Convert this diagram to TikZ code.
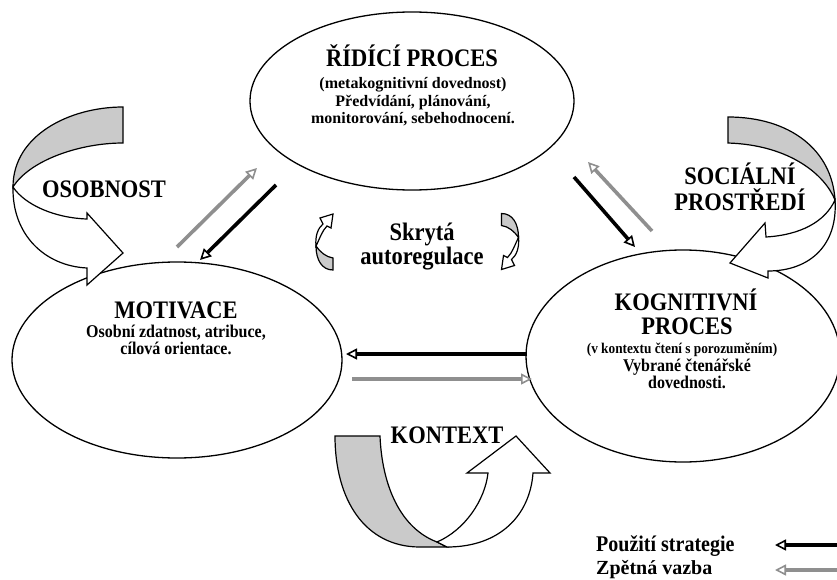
\documentclass[tikz,border=0pt]{standalone}
\usepackage{graphicx}
\usepackage{fontspec}
\setmainfont{Liberation Serif}
\usetikzlibrary{arrows.meta,shapes.geometric}
\definecolor{fbgray}{HTML}{8F8F8F}
\definecolor{ribgray}{HTML}{CACACA}
\newcommand{\vstretch}[1]{\scalebox{1}[1.12]{#1}}
\tikzset{
  oval/.style={draw, ellipse, line width=1.3pt, inner sep=0pt},
  ribbon/.style={draw, line width=1.2pt, line join=miter},
  backside/.style={ribbon, fill=ribgray},
  frontside/.style={ribbon, fill=white},
  usearrow/.style={line width=3.6pt, black, -{Triangle[open,length=11pt,width=11pt,line width=1.6pt]}},
  fbarrow/.style={line width=3.6pt, fbgray, -{Triangle[open,length=11pt,width=11pt,line width=1.6pt]}},
  biglbl/.style={font=\fontsize{22.5}{24}\selectfont\bfseries, inner sep=0pt, anchor=base},
  midlbl/.style={font=\fontsize{16}{18}\selectfont\bfseries, inner sep=0pt, anchor=base},
  smalllbl/.style={font=\fontsize{13.3}{15}\selectfont\bfseries, inner sep=0pt, anchor=base},
  leglbl/.style={font=\fontsize{20}{22}\selectfont\bfseries, inner sep=0pt, anchor=base west},
}
\begin{document}
\begin{tikzpicture}[x=1pt,y=-1pt]
\useasboundingbox (0,0) rectangle (837,580);
\fill[white] (0,0) rectangle (837,580);

% ellipses
\node[oval, minimum width=324pt, minimum height=178pt] (ridici) at (412,101) {};
\node[oval, minimum width=330pt, minimum height=196pt] (motivace) at (177,360) {};
\node[oval, minimum width=314pt, minimum height=212pt] (kognitivni) at (683,356) {};

% texts in ellipses
\node[biglbl] (t1) at (412,67) {\vstretch{ŘÍDÍCÍ PROCES}};
\node[midlbl] (t2) at (413,88.5) {(metakognitivní dovednost)};
\node[midlbl] (t3) at (413,107) {Předvídání, plánování,};
\node[midlbl] (t4) at (413,123.5) {monitorování, sebehodnocení.};

\node[biglbl] (m1) at (176,318) {\vstretch{MOTIVACE}};
\node[midlbl] (m2) at (176,337) {\vstretch{Osobní zdatnost, atribuce,}};
\node[midlbl] (m3) at (176,354) {\vstretch{cílová orientace.}};

\node[biglbl] (k1) at (686,310) {\vstretch{KOGNITIVNÍ}};
\node[biglbl] (k2) at (687,334) {\vstretch{PROCES}};
\node[smalllbl] (k3) at (682,353) {\vstretch{(v kontextu čtení s porozuměním)}};
\node[midlbl] (k4) at (687,371) {\vstretch{Vybrané čtenářské}};
\node[midlbl] (k5) at (687,388) {\vstretch{dovednosti.}};

% OSOBNOST ribbon
\draw[backside] (123,107) .. controls (70,107) and (13,135) .. (13,187)
  .. controls (30,160) and (80,143) .. (123,143) -- cycle;
\draw[frontside] (13,187) .. controls (12,235) and (45,266) .. (87,268)
  -- (87,285) -- (123,253) -- (87,213) -- (87,219)
  .. controls (55,218) and (25,205) .. (13,187) -- cycle;
\node[biglbl] (osob) at (104,197) {\vstretch{OSOBNOST}};

% SOCIALNI PROSTREDI ribbon
\draw[backside] (728,117) .. controls (790,117) and (832,150) .. (835,200)
  .. controls (825,175) and (790,145) .. (728,143) -- cycle;
\draw[frontside] (835,200) .. controls (838,245) and (810,271) .. (768,271)
  -- (768,278) -- (730,263) -- (765,223) -- (766,237)
  .. controls (800,235) and (825,222) .. (835,200) -- cycle;
\node[biglbl] (soc1) at (740,185) {\vstretch{SOCIÁLNÍ}};
\node[biglbl] (soc2) at (740,210) {\vstretch{PROSTŘEDÍ}};

% KONTEXT ribbon
\draw[backside] (335,436) -- (380,436) .. controls (382,485) and (400,528) .. (437,542)
  -- (447,547) -- (420,547) .. controls (365,547) and (335,500) .. (335,436) -- cycle;
\draw[frontside] (437,542) .. controls (465,530) and (485,500) .. (488,473)
  -- (467,473) -- (516,436) -- (550,473) -- (533,473)
  .. controls (530,515) and (500,547) .. (447,547) -- cycle;
\node[biglbl] (kont) at (447,443) {\vstretch{KONTEXT}};

% small self-regulation arrows
\begin{scope}
\draw[backside] (333,258) -- (333,270) .. controls (322,270) and (316,260) .. (316,246)
  .. controls (320,252) and (326,257) .. (333,258) -- cycle;
\draw[frontside] (316,246) .. controls (315,236) and (318,228) .. (323,224)
  -- (320,218) -- (333,214) -- (331,228) -- (327,226)
  .. controls (322,231) and (320,238) .. (316,246) -- cycle;
\end{scope}
\begin{scope}[shift={(510,241.5)}, rotate=180, shift={(-324.5,-242)}]
\draw[backside] (333,258) -- (333,270) .. controls (322,270) and (316,260) .. (316,246)
  .. controls (320,252) and (326,257) .. (333,258) -- cycle;
\draw[frontside] (316,246) .. controls (315,236) and (318,228) .. (323,224)
  -- (320,218) -- (333,214) -- (331,228) -- (327,226)
  .. controls (322,231) and (320,238) .. (316,246) -- cycle;
\end{scope}
\node[biglbl] (skr1) at (422,240) {\vstretch{Skrytá}};
\node[biglbl] (skr2) at (422,264) {\vstretch{autoregulace}};

% arrows
\coordinate (g1s) at (177,247); \coordinate (g1e) at (257,168);
\coordinate (b1s) at (276,185); \coordinate (b1e) at (200,260);
\coordinate (b2s) at (574,177); \coordinate (b2e) at (635,247);
\coordinate (g2s) at (652,231); \coordinate (g2e) at (588,162);
\coordinate (b3s) at (527,354); \coordinate (b3e) at (346,354);
\coordinate (g3s) at (352,379); \coordinate (g3e) at (532,379);
\draw[fbarrow] (g1s) -- (g1e);
\draw[usearrow] (b1s) -- (b1e);
\draw[usearrow] (b2s) -- (b2e);
\draw[fbarrow] (g2s) -- (g2e);
\draw[usearrow] (b3s) -- (b3e);
\draw[fbarrow] (g3s) -- (g3e);

% legend
\node[leglbl] (leg1) at (596,551) {\vstretch{Použití strategie}};
\node[leglbl] (leg2) at (596,574.5) {Zpětná vazba};
\coordinate (lb1) at (837,545); \coordinate (lb2) at (775,545);
\coordinate (lg1) at (837,570); \coordinate (lg2) at (775,570);
\draw[usearrow] (lb1) -- (lb2);
\draw[fbarrow] (lg1) -- (lg2);
\end{tikzpicture}
\end{document}
